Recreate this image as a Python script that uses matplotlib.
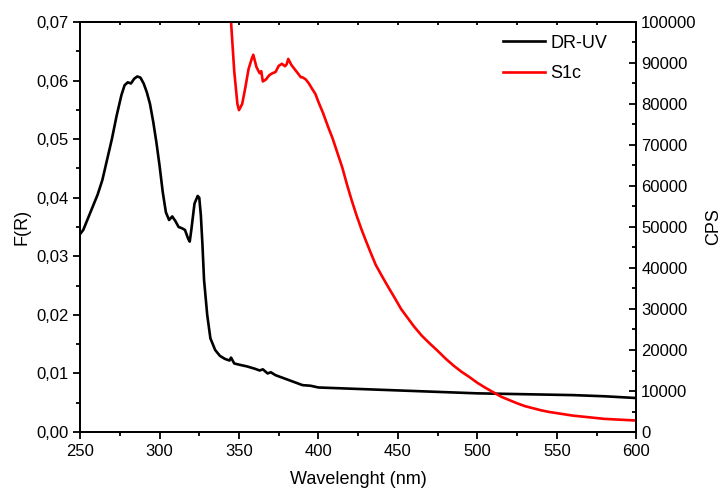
import numpy as np, matplotlib
matplotlib.use("Agg"); import matplotlib.pyplot as plt
from matplotlib.ticker import MultipleLocator, FuncFormatter

plt.rcParams['font.family'] = ['Liberation Sans', 'DejaVu Sans']

# DR-UV spectrum, F(R)
wl_dr = [250, 252, 255, 258, 261, 264, 267, 270, 273, 276, 278, 280, 282, 284, 286, 288, 290,
         292, 294, 296, 298, 300, 302, 304, 306, 308, 310, 312, 314, 316, 318, 319, 320, 322,
         324, 325, 326, 327, 328, 330, 332, 335, 338, 341, 344, 345, 347, 350, 355, 360, 363,
         365, 368, 370, 373, 375, 380, 385, 390, 395, 400, 420, 440, 460, 480, 500, 520, 540,
         560, 580, 600]
fr_dr = [0.0338, 0.0345, 0.0365, 0.0385, 0.0405, 0.043, 0.0465, 0.050, 0.054, 0.0575, 0.0592,
         0.0597, 0.0595, 0.0603, 0.0607, 0.0605, 0.0595, 0.0580, 0.0560, 0.0530, 0.0495, 0.0455,
         0.0410, 0.0375, 0.0362, 0.0368, 0.0360, 0.0350, 0.0348, 0.0345, 0.0330, 0.0325, 0.0345,
         0.0390, 0.0403, 0.0400, 0.0370, 0.0320, 0.0260, 0.0200, 0.0160, 0.0140, 0.0130, 0.0125,
         0.0122, 0.0127, 0.0117, 0.0115, 0.0112, 0.0108, 0.0105, 0.0107, 0.0100, 0.0102, 0.0097,
         0.0095, 0.0090, 0.0085, 0.0080, 0.0079, 0.0076, 0.0074, 0.0072, 0.0070, 0.0068, 0.0066,
         0.0065, 0.0064, 0.0063, 0.0061, 0.0058]

# S1c emission, CPS
wl_s1 = [343, 345, 347, 349, 350, 352, 354, 356, 358, 359, 360, 361, 363, 364, 365, 367, 369,
         371, 373, 375, 377, 379, 380, 381, 383, 385, 387, 389, 390, 392, 394, 396, 398, 400,
         403, 406, 409, 412, 415, 418, 421, 424, 427, 430, 433, 436, 440, 444, 448, 452, 456,
         460, 465, 470, 475, 480, 485, 490, 495, 500, 505, 510, 515, 520, 525, 530, 535, 540,
         545, 550, 555, 560, 570, 580, 590, 600]
cps_s1 = [125000, 100000, 88000, 80000, 78500, 80000, 84000, 88500, 91000, 92000, 90500, 89000,
          87500, 88000, 85500, 86000, 87000, 87500, 87800, 89300, 89800, 89200, 89700, 91000,
          89500, 88500, 87500, 86500, 86500, 86000, 85000, 83700, 82500, 80500, 77700, 74500,
          71500, 68000, 64500, 60300, 56400, 52800, 49500, 46500, 43600, 40800, 38000, 35300,
          32700, 30000, 27900, 25800, 23500, 21600, 19800, 17900, 16200, 14700, 13400, 12000,
          10800, 9700, 8600, 7800, 7000, 6300, 5800, 5300, 4900, 4600, 4300, 4000, 3600, 3200,
          3000, 2800]

fig = plt.figure(figsize=(7.28, 4.94), dpi=100)
ax = fig.add_axes([0.110, 0.1255, 0.764, 0.830])
ax2 = ax.twinx()

l1, = ax.plot(wl_dr, fr_dr, color="black", lw=1.9, label="DR-UV")
l2, = ax2.plot(wl_s1, cps_s1, color="#ff0000", lw=1.9, label="S1c")

ax.set_xlim(250, 600); ax.set_ylim(0, 0.07)
ax2.set_ylim(0, 100000)
ax.xaxis.set_major_locator(MultipleLocator(50)); ax.xaxis.set_minor_locator(MultipleLocator(25))
ax.yaxis.set_major_locator(MultipleLocator(0.01)); ax.yaxis.set_minor_locator(MultipleLocator(0.005))
ax.yaxis.set_major_formatter(FuncFormatter(lambda v, p: f"{v:.2f}".replace(".", ",")))
ax2.yaxis.set_major_locator(MultipleLocator(10000)); ax2.yaxis.set_minor_locator(MultipleLocator(5000))

ax.tick_params(axis="both", which="both", direction="out", labelsize=12, width=1.3)
ax.tick_params(which="major", length=5); ax.tick_params(which="minor", length=3)
ax2.tick_params(axis="y", which="both", direction="in", labelsize=12, width=1.3)
ax2.tick_params(which="major", length=5); ax2.tick_params(which="minor", length=3)
for a in (ax, ax2):
    for s in a.spines.values():
        s.set_linewidth(1.3)

# short inward ticks along the top edge
top = ax.secondary_xaxis("top")
top.xaxis.set_major_locator(MultipleLocator(25))
top.tick_params(direction="in", length=2, width=1.3, labeltop=False)
top.spines["top"].set_linewidth(1.3)

ax.set_xlabel("Wavelenght (nm)", fontsize=13, labelpad=9)
ax.set_ylabel("F(R)", fontsize=13)
ax2.set_ylabel("CPS", fontsize=13, labelpad=6)

ax.legend([l1, l2], ["DR-UV", "S1c"], loc="upper right", frameon=False, fontsize=13,
          handlelength=2.3, handletextpad=0.3, labelspacing=0.75,
          bbox_to_anchor=(0.97, 1.0), borderaxespad=0.3)

fig.savefig("out.png", dpi=100)
